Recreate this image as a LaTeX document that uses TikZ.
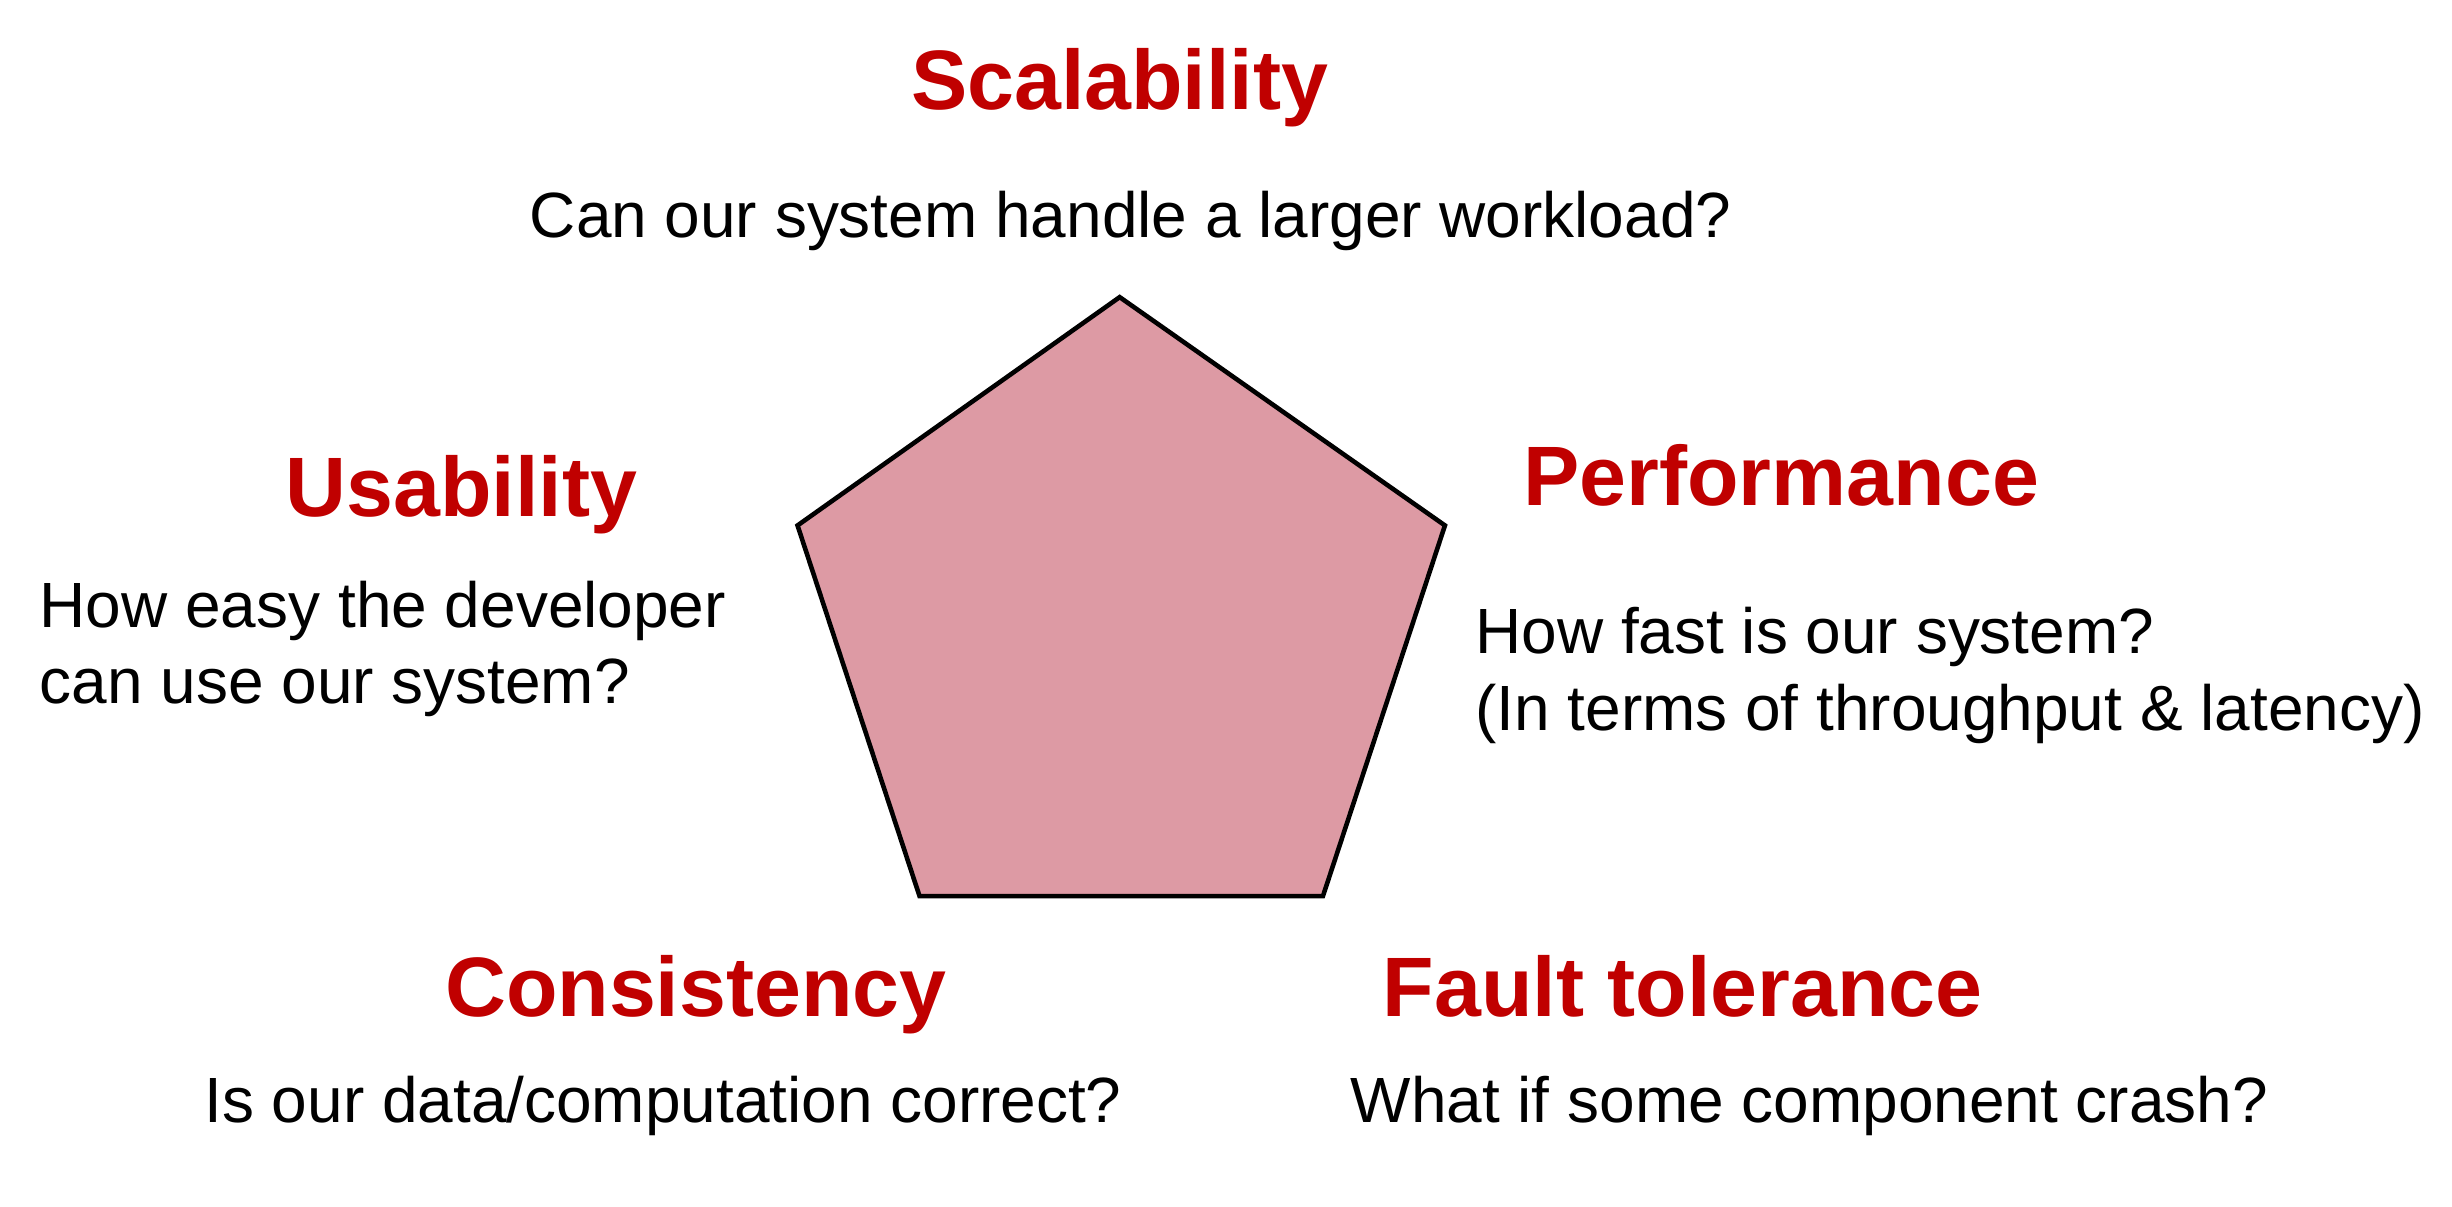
\documentclass[tikz,border=0pt]{standalone}
\usepackage{fontspec}
\setmainfont{Liberation Sans}
\usepackage{tikz}
\usetikzlibrary{positioning}
\definecolor{headred}{RGB}{192,0,0}
\definecolor{pentafill}{RGB}{221,154,164}
\tikzset{
    %Define style for the red titles
    headnode/.style={
             inner sep=0pt,
             anchor=base,
             text=headred,
             font=\fontsize{24}{28.8}\selectfont\bfseries},
    %Define style for the questions
    asknode/.style={
             inner sep=0pt,
             anchor=base,
             align=left,
             font=\fontsize{18.2}{21.8}\selectfont},
    % Define pentagon style
    pentagon/.style={
            draw=black,
            line width=1.3pt,
            line join=miter,
            fill=pentafill}
}
\begin{document}
\begin{tikzpicture}[x=0.015638cm, y=-0.015638cm]
 \useasboundingbox (0,0) rectangle (1568,771.2);
 % the pentagon
 \coordinate (top) at (716,190);
 \coordinate (right) at (924,336);
 \coordinate (botright) at (846,573);
 \coordinate (botleft) at (588,573);
 \coordinate (left) at (510,336);
 \draw[pentagon] (top) -- (right) -- (botright) -- (botleft) -- (left) -- cycle;
 % titles
 \node[headnode] (scal) at (716,70) {Scalability};
 \node[headnode] (usab) at (295,330) {Usability};
 \node[headnode] (perf) at (1139,323) {Performance};
 \node[headnode] (cons) at (445,650) {Consistency};
 \node[headnode] (fault) at (1076,650) {Fault tolerance};
 % questions (multi-line ones sit on their last line)
 \node[asknode] (scalq) at (723,152) {Can our system handle a larger workload?};
 \node[asknode, anchor=base west] (usabq) at (25,450) {How easy the developer\\can use our system?};
 \node[asknode, anchor=base west] (perfq) at (943,467) {How fast is our system?\\(In terms of throughput \& latency)};
 \node[asknode] (consq) at (424,718) {Is our data/computation correct?};
 \node[asknode] (faultq) at (1157,718) {What if some component crash?};
\end{tikzpicture}
\end{document}
